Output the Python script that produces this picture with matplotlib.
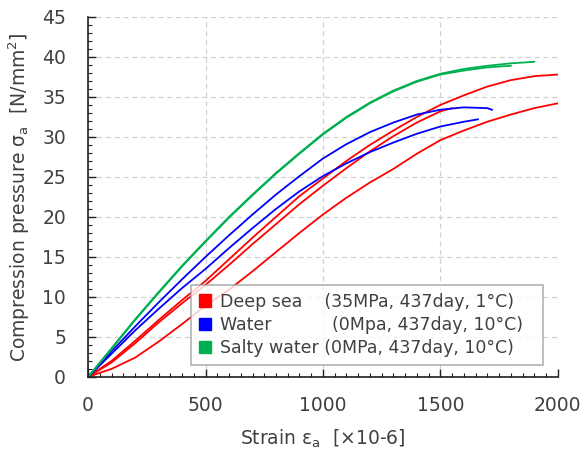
import numpy as np
import matplotlib.pyplot as plt
from matplotlib.patches import Patch
from matplotlib.ticker import MultipleLocator

plt.rcParams['font.family'] = ['DejaVu Sans']
plt.rcParams['mathtext.fontset'] = 'dejavusans'

# strain [x10-6] and stress [N/mm2]
green1_x = [0, 100, 200, 300, 400, 500, 600, 700, 800, 900, 1000, 1100, 1200, 1300, 1400, 1500, 1600, 1700, 1800, 1900]
green1_y = [0, 3.6, 7.2, 10.6, 13.9, 17.0, 20.0, 22.8, 25.5, 28.0, 30.4, 32.5, 34.3, 35.8, 37.0, 37.9, 38.5, 38.9, 39.2, 39.4]
green2_x = [0, 100, 200, 300, 400, 500, 600, 700, 800, 900, 1000, 1100, 1200, 1300, 1400, 1500, 1600, 1700, 1800]
green2_y = [0, 3.5, 7.1, 10.5, 13.8, 16.9, 19.9, 22.7, 25.4, 27.9, 30.3, 32.4, 34.2, 35.7, 36.9, 37.8, 38.3, 38.7, 38.9]

blue1_x = [0, 100, 200, 300, 400, 500, 600, 700, 800, 900, 1000, 1100, 1200, 1300, 1400, 1500, 1600, 1700, 1720]
blue1_y = [0, 3.2, 6.3, 9.3, 12.2, 15.0, 17.7, 20.3, 22.8, 25.1, 27.3, 29.1, 30.6, 31.8, 32.8, 33.4, 33.7, 33.6, 33.4]
blue2_x = [0, 100, 200, 300, 400, 500, 600, 700, 800, 900, 1000, 1100, 1200, 1300, 1400, 1500, 1600, 1660]
blue2_y = [0, 2.9, 5.8, 8.5, 11.1, 13.5, 16.1, 18.6, 21.0, 23.2, 25.1, 26.7, 28.1, 29.3, 30.4, 31.3, 31.9, 32.2]

red1_x = [0, 100, 200, 300, 400, 500, 600, 700, 800, 900, 1000, 1100, 1200, 1300, 1400, 1500, 1600, 1700, 1800, 1900, 2000]
red1_y = [0, 2.0, 4.5, 7.1, 9.6, 12.0, 14.7, 17.4, 20.0, 22.6, 24.8, 27.0, 29.0, 30.8, 32.5, 34.0, 35.2, 36.3, 37.1, 37.6, 37.8]
red2_x = [0, 100, 200, 300, 400, 500, 600, 700, 800, 900, 1000, 1100, 1200, 1300, 1400, 1500, 1550]
red2_y = [0, 1.8, 4.2, 6.8, 9.2, 11.5, 14.0, 16.6, 19.1, 21.6, 23.9, 26.1, 28.2, 30.1, 31.8, 33.2, 33.6]
red3_x = [0, 100, 200, 300, 400, 500, 600, 700, 800, 900, 1000, 1100, 1200, 1300, 1400, 1500, 1600, 1700, 1800, 1900, 2000]
red3_y = [0, 1.0, 2.4, 4.4, 6.6, 8.9, 10.9, 13.2, 15.6, 18.0, 20.3, 22.4, 24.3, 26.0, 27.9, 29.6, 30.8, 31.9, 32.8, 33.6, 34.2]

labels = ["Deep sea    (35MPa, 437day, 1°C)   ",
          "Water           (0Mpa, 437day, 10°C)  ",
          "Salty water (0MPa, 437day, 10°C)    "]
colors = ["#ff0000", "#0000ff", "#00b050"]

fig = plt.figure(figsize=(5.84, 4.59), dpi=100)
ax = fig.add_axes([0.151, 0.179, 0.804, 0.784])

for x, y in [(red1_x, red1_y), (red2_x, red2_y), (red3_x, red3_y)]:
    ax.plot(x, y, color=colors[0], lw=1.3)
for x, y in [(blue1_x, blue1_y), (blue2_x, blue2_y)]:
    ax.plot(x, y, color=colors[1], lw=1.3)
for x, y in [(green1_x, green1_y), (green2_x, green2_y)]:
    ax.plot(x, y, color=colors[2], lw=1.3)

ax.set_xlim(0, 2000)
ax.set_ylim(0, 45)
ax.xaxis.set_major_locator(MultipleLocator(500))
ax.xaxis.set_minor_locator(MultipleLocator(50))
ax.yaxis.set_major_locator(MultipleLocator(5))
ax.yaxis.set_minor_locator(MultipleLocator(1))
ax.grid(True, which='major', color='#d0d0d0', ls=(0, (4, 3)), lw=0.9)
ax.set_axisbelow(True)

for s in ['top', 'right']:
    ax.spines[s].set_visible(False)
for s in ['left', 'bottom']:
    ax.spines[s].set_color('#202020')
    ax.spines[s].set_linewidth(1.2)

ax.tick_params(which='major', direction='in', length=6, width=1.0, color='#202020',
               labelsize=13.5, labelcolor='#404040')
ax.tick_params(axis='x', which='major', pad=14)
ax.tick_params(axis='y', which='major', pad=16)
ax.tick_params(which='minor', direction='in', length=3, width=0.8, color='#202020')

ax.set_xlabel("Strain ε$_\\mathregular{a}$  [×10-6]", fontsize=13.5, color='#404040', labelpad=9)
ax.set_ylabel("Compression pressure σ$_\\mathregular{a}$  [N/mm$^\\mathregular{2}$]",
              fontsize=13.5, color='#404040', labelpad=7)

handles = [Patch(facecolor=c, edgecolor=c) for c in colors]
leg = ax.legend(handles, labels, loc='upper left', bbox_to_anchor=(0.219, 0.256),
                fontsize=12.5, frameon=True, fancybox=False, edgecolor='#a0a0a0',
                handlelength=0.7, handleheight=0.7, handletextpad=0.5,
                labelspacing=0.3, borderpad=0.45, borderaxespad=0)
leg.get_frame().set_linewidth(1.2)
for t in leg.get_texts():
    t.set_color('#404040')

fig.savefig("out.png", dpi=100)
